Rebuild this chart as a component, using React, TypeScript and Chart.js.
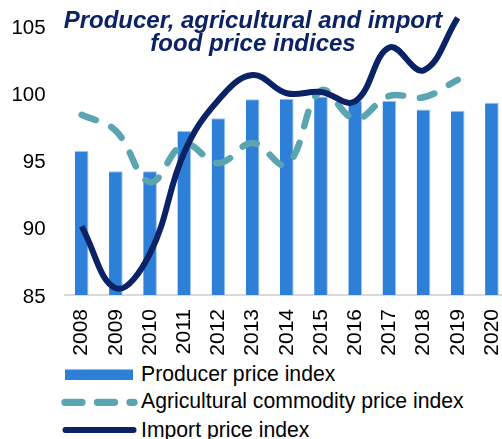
import React, { useEffect, useRef } from "react";
import { Chart, registerables } from "chart.js";

Chart.register(...registerables);

const years = ["2008","2009","2010","2011","2012","2013","2014","2015","2016","2017","2018","2019","2020"];
const producer = [95.7, 94.2, 94.2, 97.2, 98.15, 99.55, 99.6, 99.75, 99.45, 99.45, 98.8, 98.7, 99.3];
const agricultural = [98.4, 97.2, 93.4, 96.2, 94.8, 96.3, 94.7, 100.2, 98.1, 99.8, 99.7, 101.0, null];
const importIdx = [90.1, 85.5, 88.1, 95.6, 99.5, 101.35, 100.0, 100.1, 99.4, 103.4, 101.7, 105.6, null];
const yTicks = [85, 90, 95, 100, 105];

const NAVY = "#0B2265";
const TEAL = "#5BA5B0";
const BLUE = "#2E7FD8";
const FONT = "'Liberation Sans', Arial, sans-serif";

export default function App() {
  const ref = useRef<HTMLCanvasElement | null>(null);
  useEffect(() => {
    if (!ref.current) return;
    const chart = new Chart(ref.current, {
      type: "bar",
      data: {
        labels: years,
        datasets: [
          {
            type: "line",
            label: "Import price index",
            data: importIdx,
            borderColor: NAVY,
            borderWidth: 6,
            pointRadius: 0,
            tension: 0.4,
            clip: false,
            order: 0,
          } as any,
          {
            type: "line",
            label: "Agricultural commodity price index",
            data: agricultural,
            borderColor: TEAL,
            borderWidth: 6.5,
            borderDash: [15, 17],
            borderCapStyle: "round",
            pointRadius: 0,
            tension: 0.4,
            clip: false,
            order: 1,
          } as any,
          {
            type: "bar",
            label: "Producer price index",
            data: producer,
            backgroundColor: BLUE,
            borderColor: "#9CC3EE",
            borderWidth: { top: 1, left: 0, right: 1, bottom: 0 },
            categoryPercentage: 1,
            barPercentage: 0.4,
            order: 2,
          } as any,
        ],
      },
      options: {
        animation: false,
        responsive: false,
        maintainAspectRatio: false,
        layout: { padding: { top: 26, left: 0, right: 7, bottom: 0 } },
        plugins: {
          legend: { display: false },
          title: { display: false },
          tooltip: { enabled: false },
        },
        scales: {
          x: {
            grid: { display: false, drawTicks: false },
            border: { display: true, color: "#D9D9D9", width: 2 },
            ticks: {
              minRotation: 90,
              maxRotation: 90,
              padding: 14,
              color: "#000",
              font: { family: FONT, size: 21 },
              autoSkip: false,
            },
            afterFit: (s: any) => { s.height = 65; s.paddingLeft = 0; s.paddingRight = 0; },
          },
          y: {
            min: 85,
            max: 105,
            grid: { display: false, drawTicks: false },
            border: { display: false },
            afterBuildTicks: (s: any) => { s.ticks = yTicks.map((v) => ({ value: v })); },
            ticks: {
              padding: 19,
              labelOffset: 2,
              color: "#000",
              font: { family: FONT, size: 20.5 },
            },
            afterFit: (s: any) => { s.width = 64.6; s.paddingTop = 0; s.paddingBottom = 0; },
          },
        },
      },
    });
    return () => chart.destroy();
  }, []);

  const legendText: React.CSSProperties = {
    position: "absolute",
    left: 141,
    fontFamily: FONT,
    fontSize: 21.2,
    color: "#000",
    lineHeight: "22px",
    whiteSpace: "nowrap",
  };

  return (
    <div style={{ position: "fixed", left: 0, top: 0, width: 502, height: 439, overflow: "hidden", background: "#fff" }}>
      <canvas ref={ref} width={516} height={360} style={{ position: "absolute", left: 0, top: 0, width: 516, height: 360 }} />
      <div
        style={{
          position: "absolute",
          left: 0,
          width: 506,
          top: 9,
          textAlign: "center",
          fontFamily: FONT,
          fontWeight: "bold",
          fontStyle: "italic",
          fontSize: 24,
          lineHeight: "22.5px",
          color: NAVY,
        }}
      >
        Producer, agricultural and import
        <br />
        food price indices
      </div>
      <svg style={{ position: "absolute", left: 0, top: 360 }} width={140} height={79}>
        <rect x={65} y={9.5} width={68} height={10.5} fill={BLUE} />
        <line x1={65} y1={42.3} x2={134} y2={42.3} stroke={TEAL} strokeWidth={7.3} strokeLinecap="round" strokeDasharray="17 15.5" />
        <line x1={65.5} y1={70} x2={133.5} y2={70} stroke={NAVY} strokeWidth={6} strokeLinecap="round" />
      </svg>
      <div style={{ ...legendText, top: 363 }}>Producer price index</div>
      <div style={{ ...legendText, top: 390.4 }}>Agricultural commodity price index</div>
      <div style={{ ...legendText, top: 418.8 }}>Import price index</div>
    </div>
  );
}
